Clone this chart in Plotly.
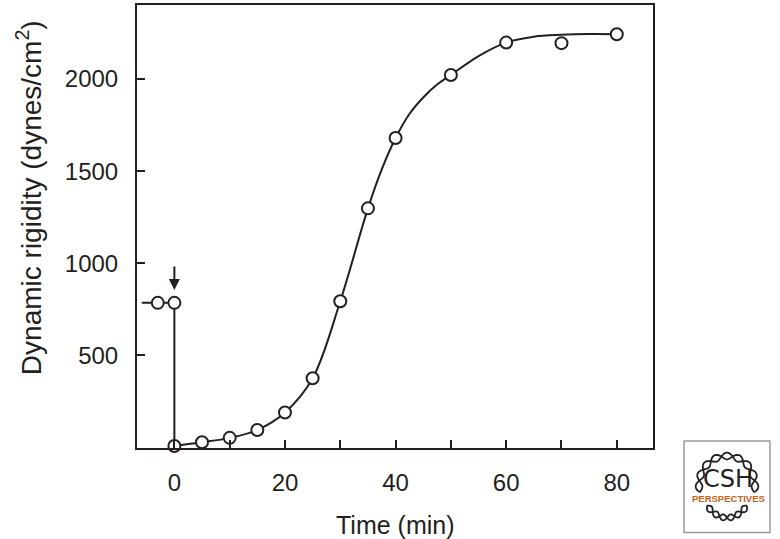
import numpy as np
import plotly.graph_objects as go

# ---- data ----
point_time = [-3, 0, 0, 5, 10, 15, 20, 25, 30, 35, 40, 50, 60, 70, 80]
point_rigidity = [785, 785, 8, 28, 52, 95, 190, 376, 794, 1298, 1680, 2022, 2198, 2195, 2243]

pre_time = [-5.9, -3, 0, 0]
pre_rigidity = [785, 785, 785, 8]

curve_time = [0, 5, 10, 15, 20, 25, 30, 35, 37.5, 40, 42.5, 45, 47.5, 50, 55, 60, 65, 70, 75, 80]
curve_rigidity = [8, 28, 52, 95, 190, 376, 794, 1298, 1510, 1680, 1810, 1900, 1970, 2022, 2125, 2198, 2230, 2240, 2244, 2243]

x_tickvals = [0, 10, 20, 30, 40, 50, 60, 70, 80]
x_ticktext = ["0", "", "20", "", "40", "", "60", "", "80"]
y_tickvals = [500, 1000, 1500, 2000]
y_ticktext = ["500", "1000", "1500", "2000"]

arrow_time = 0
arrow_tip = 855
arrow_tail = 990

# ---- layout constants ----
W, H = 780, 539
L, R, T, B = 137, 127, 3, 91
PW, PH = W - L - R, H - T - B
INK = "#231f20"
FONT = "Liberation Sans, Arial, Helvetica, sans-serif"


def px_to_paper(px, py):
    return (px - L) / PW, (H - B - py) / PH


fig = go.Figure()

fig.add_trace(go.Scatter(x=pre_time, y=pre_rigidity, mode="lines",
                         line=dict(color=INK, width=2), hoverinfo="skip",
                         showlegend=False, cliponaxis=False))
fig.add_trace(go.Scatter(x=curve_time, y=curve_rigidity, mode="lines",
                         line=dict(color=INK, width=2, shape="spline", smoothing=1.0),
                         hoverinfo="skip", showlegend=False, cliponaxis=False))
fig.add_trace(go.Scatter(x=point_time, y=point_rigidity, mode="markers",
                         marker=dict(symbol="circle", size=12, color="white",
                                     line=dict(color=INK, width=2)),
                         showlegend=False, cliponaxis=False))

fig.add_annotation(x=arrow_time, y=arrow_tip, ax=arrow_time, ay=arrow_tail,
                   xref="x", yref="y", axref="x", ayref="y", text="",
                   showarrow=True, arrowhead=2, arrowsize=1.1, arrowwidth=2,
                   arrowcolor=INK)

# axis titles as annotations for exact placement
tx, ty = px_to_paper(395.5, 525)
fig.add_annotation(x=tx, y=ty, xref="paper", yref="paper", text="Time (min)",
                   showarrow=False, xanchor="center", yanchor="middle",
                   font=dict(family=FONT, size=25, color=INK))
yx, yy = px_to_paper(29, 197)
fig.add_annotation(x=yx, y=yy, xref="paper", yref="paper",
                   text="Dynamic rigidity (dynes/cm<sup>2</sup>)",
                   showarrow=False, textangle=-90, xanchor="center", yanchor="middle",
                   font=dict(family=FONT, size=28, color=INK))

# ---- CSH Perspectives logo (decoration) ----
bx0, by0 = px_to_paper(684, 533)
bx1, by1 = px_to_paper(770, 441)
fig.add_shape(type="rect", xref="paper", yref="paper", x0=bx0, y0=by0, x1=bx1, y1=by1,
              line=dict(color="#9a9a9a", width=1.5), fillcolor="white")


def helix_path(cx, cy, rx, ry, a0, a1, amp, turns, phase):
    th = np.linspace(a0, a1, 90)
    s = amp * np.sin(turns * (th - a0) * 2 * np.pi / (a1 - a0) + phase)
    xs = cx + (rx + s) * np.cos(th)
    ys = cy - (ry + s) * np.sin(th)
    pts = [px_to_paper(x, y) for x, y in zip(xs, ys)]
    return "M " + " L ".join(f"{p[0]:.5f},{p[1]:.5f}" for p in pts)


cx, cy = 727, 485
for ph in (0, np.pi):
    fig.add_shape(type="path", xref="paper", yref="paper",
                  path=helix_path(cx, cy, 28, 29, np.radians(195), np.radians(-15), 3.4, 4.5, ph),
                  line=dict(color="#222222", width=1.8))
    fig.add_shape(type="path", xref="paper", yref="paper",
                  path=helix_path(cx, cy + 1, 25, 32, np.radians(218), np.radians(322), 3.0, 3, ph),
                  line=dict(color="#222222", width=1.8))

lx, ly = px_to_paper(728, 479)
fig.add_annotation(x=lx, y=ly, xref="paper", yref="paper", text="CSH", showarrow=False,
                   xanchor="center", yanchor="middle",
                   font=dict(family="DejaVu Sans, sans-serif", size=24, color="#222222"))
lx, ly = px_to_paper(728, 499)
fig.add_annotation(x=lx, y=ly, xref="paper", yref="paper", text="<b>PERSPECTIVES</b>",
                   showarrow=False, xanchor="center", yanchor="middle",
                   font=dict(family="Liberation Sans, sans-serif",
                             size=9.5, color="#b8642a"))

fig.update_layout(
    width=W, height=H,
    margin=dict(l=L, r=R, t=T, b=B, pad=0),
    paper_bgcolor="white", plot_bgcolor="white",
    font=dict(family=FONT, size=24, color=INK),
    xaxis=dict(range=[-6.76, 86.55], tickvals=x_tickvals, ticktext=x_ticktext,
               ticks="inside", ticklen=8, tickwidth=2, tickcolor=INK,
               showline=True, linecolor=INK, linewidth=2, mirror=True,
               showgrid=False, zeroline=False, ticklabelstandoff=12,
               tickfont=dict(family=FONT, size=24, color=INK)),
    yaxis=dict(range=[-3, 2402], tickvals=y_tickvals, ticktext=y_ticktext,
               ticks="inside", ticklen=8, tickwidth=2, tickcolor=INK,
               showline=True, linecolor=INK, linewidth=2, mirror=True,
               showgrid=False, zeroline=False, ticklabelstandoff=12,
               tickfont=dict(family=FONT, size=24, color=INK)),
)

fig.write_html("out.html", config={"displayModeBar": False},
               post_script="document.body.style.margin='0';document.body.style.overflow='hidden';")
